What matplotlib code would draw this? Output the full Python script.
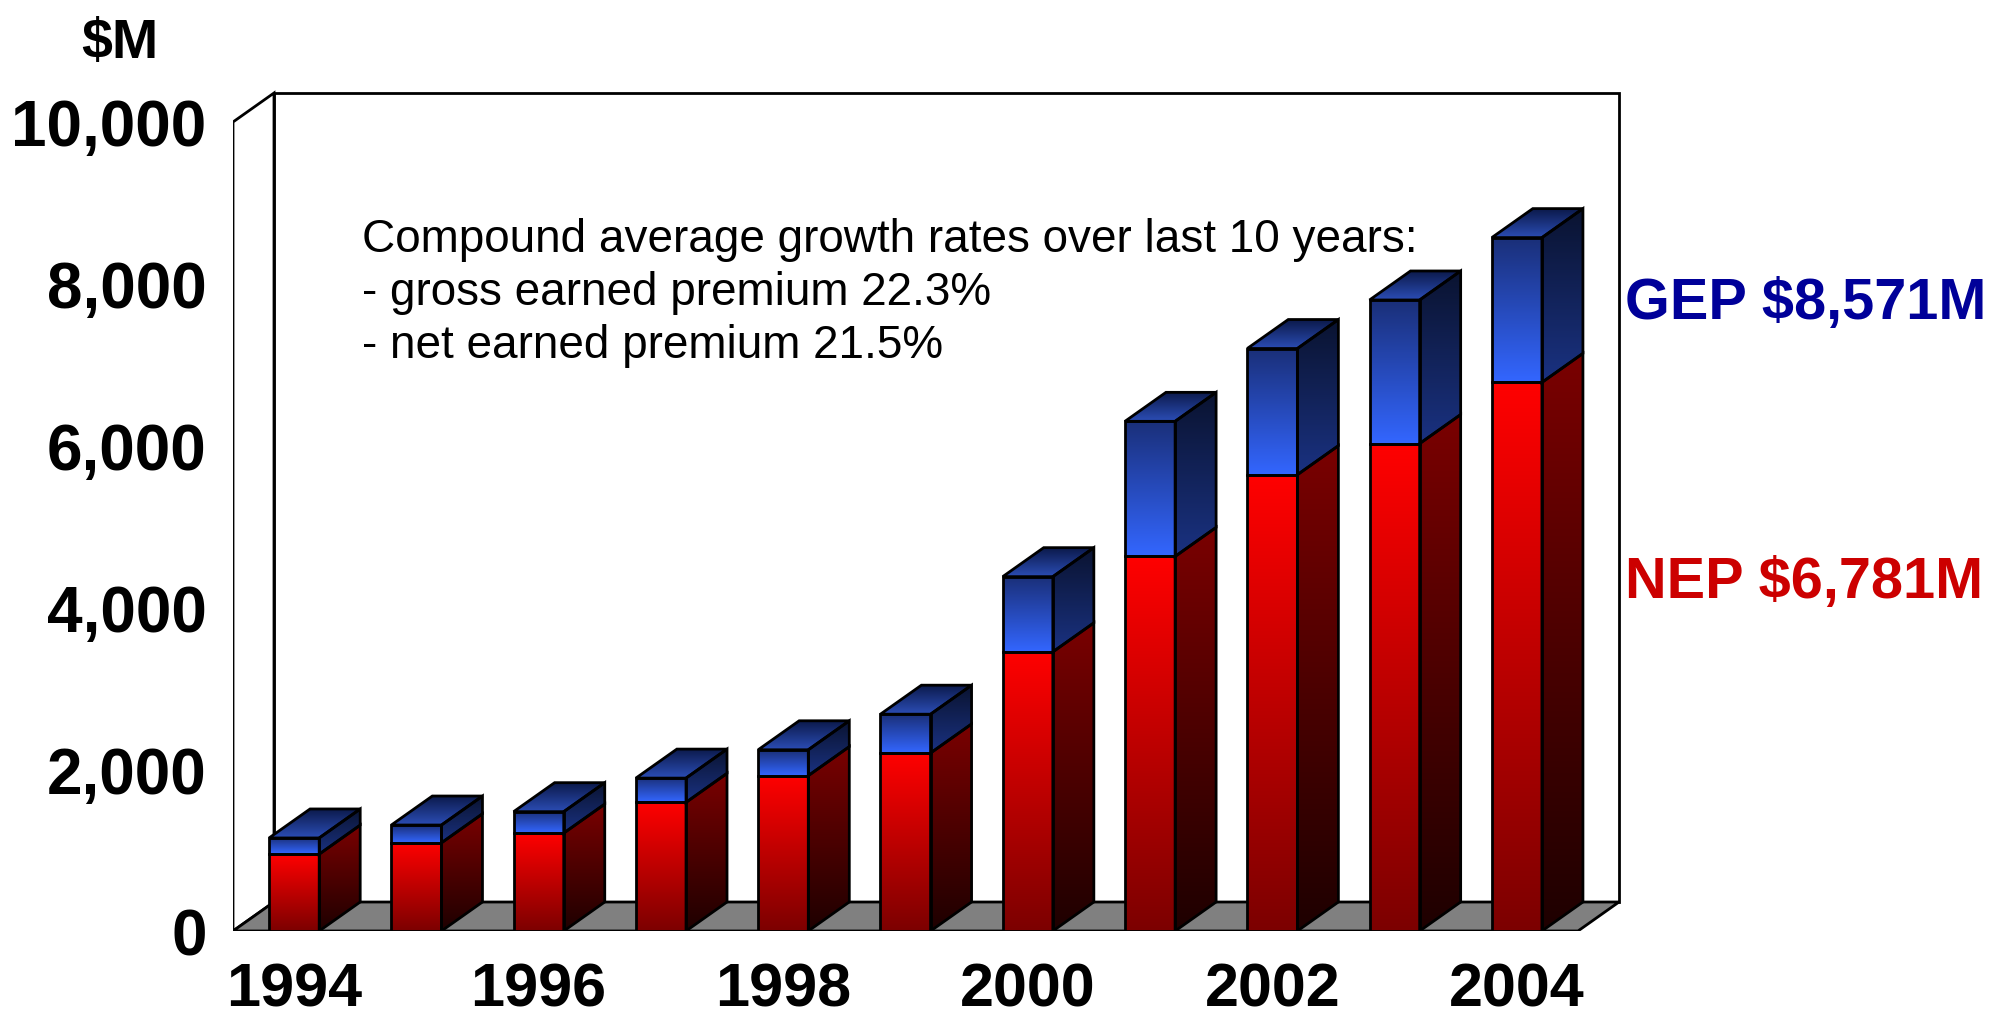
import numpy as np
import matplotlib
matplotlib.use("Agg")
import matplotlib.pyplot as plt
from matplotlib.patches import Polygon
from matplotlib.colors import to_rgb

# ---------------- data ----------------
years = [1994, 1995, 1996, 1997, 1998, 1999, 2000, 2001, 2002, 2003, 2004]
gep = [1150, 1310, 1475, 1890, 2240, 2680, 4380, 6300, 7200, 7800, 8571]   # gross earned premium $M
nep = [950, 1090, 1210, 1590, 1920, 2200, 3450, 4630, 5640, 6025, 6781]     # net earned premium $M
ytick_vals = [0, 2000, 4000, 6000, 8000, 10000]
ytick_labels = ["0", "2,000", "4,000", "6,000", "8,000", "10,000"]
xtick_years = [1994, 1996, 1998, 2000, 2002, 2004]
note_lines = ["Compound average growth rates over last 10 years:",
              "- gross earned premium 22.3%",
              "- net earned premium 21.5%"]
gep_label = "GEP $8,571M"
nep_label = "NEP $6,781M"
unit_label = "$M"

# ---------------- layout ----------------
W, H, DPI = 1990, 1020, 100
FONT = "Liberation Sans"
x0px, x1px = 233, 1578        # front frame left/right
y0px, ytop_px = 932, 123      # pixel rows of 0 and 10,000
ncat = len(years)
ux = (x1px - x0px) / ncat     # px per category
uy = (y0px - ytop_px) / 10000 # px per $M
ddx_px, ddy_px = 41, 29
DX = ddx_px / ux
DY = ddy_px / uy
BW = 0.41

fig = plt.figure(figsize=(W / DPI, H / DPI), dpi=DPI)
ax_right_px = x1px + 46
ax_top_px = 88
ax = fig.add_axes([x0px / W, (H - y0px) / H, (ax_right_px - x0px) / W, (y0px - ax_top_px) / H])
xlim = (-0.5, -0.5 + (ax_right_px - x0px) / ux)
ylim = (0, (y0px - ax_top_px) / uy)

EDGE = dict(edgecolor="black", linewidth=2.0, joinstyle="miter")


def face(verts, c_bottom, c_top, z=2):
    verts = np.asarray(verts, dtype=float)
    poly = Polygon(verts, closed=True, facecolor="none", zorder=z + 0.5, **EDGE)
    ax.add_patch(poly)
    cb, ct = np.array(to_rgb(c_bottom)), np.array(to_rgb(c_top))
    t = np.linspace(0, 1, 256)[:, None]
    grad = (cb * (1 - t) + ct * t)[:, None, :]
    xmn, xmx = verts[:, 0].min(), verts[:, 0].max()
    ymn, ymx = verts[:, 1].min(), verts[:, 1].max()
    im = ax.imshow(grad, extent=(xmn, xmx, ymn, ymx), origin="lower",
                   aspect="auto", interpolation="bilinear", zorder=z)
    im.set_clip_path(poly)


# walls and floor
L, R = -0.5, ncat - 0.5
ax.add_patch(Polygon([(L + DX, DY), (R + DX, DY), (R + DX, 10000 + DY), (L + DX, 10000 + DY)],
                     facecolor="white", zorder=0.5, **EDGE))
ax.add_patch(Polygon([(L, 0), (L, 10000), (L + DX, 10000 + DY), (L + DX, DY)],
                     facecolor="white", zorder=0.6, **EDGE))
ax.add_patch(Polygon([(L, 0), (R, 0), (R + DX, DY), (L + DX, DY)],
                     facecolor="#808080", zorder=0.7, **EDGE))

# bars
for i, (g, n) in enumerate(zip(gep, nep)):
    xl, xr = i - BW / 2, i + BW / 2
    # red (NEP)
    face([(xr, 0), (xr + DX, DY), (xr + DX, n + DY), (xr, n)], "#1e0000", "#7a0000")
    face([(xl, 0), (xr, 0), (xr, n), (xl, n)], "#7c0000", "#ff0000")
    # blue (GEP - NEP)
    face([(xr, n), (xr + DX, n + DY), (xr + DX, g + DY), (xr, g)], "#1a3282", "#0a1330")
    face([(xl, n), (xr, n), (xr, g), (xl, g)], "#3366ff", "#1a2f78")
    face([(xl, g), (xr, g), (xr + DX, g + DY), (xl + DX, g + DY)], "#2b4db5", "#0c1a4c")

ax.set_xlim(*xlim)
ax.set_ylim(*ylim)
for s in ax.spines.values():
    s.set_visible(False)
ax.set_facecolor("none")
ax.set_yticks(ytick_vals)
ax.set_yticklabels(ytick_labels, fontsize=46, fontweight="bold", family=FONT)
ax.set_xticks([years.index(y) for y in xtick_years])
ax.set_xticklabels([str(y) for y in xtick_years], fontsize=44, fontweight="bold", family=FONT)
ax.tick_params(axis="y", length=0, pad=19)
ax.tick_params(axis="x", length=0, pad=22)

# texts
fig.text(120 / W, 1 - 58 / H, unit_label, ha="center", va="baseline",
         fontsize=40, fontweight="bold", family=FONT)
note_baselines = [252, 305, 358]
for line, b in zip(note_lines, note_baselines):
    fig.text(362 / W, 1 - b / H, line, ha="left", va="baseline", fontsize=33, family=FONT)
fig.text(1625 / W, 1 - 319 / H, gep_label, ha="left", va="baseline",
         fontsize=41.5, fontweight="bold", color="#000099", family=FONT)
fig.text(1625 / W, 1 - 598 / H, nep_label, ha="left", va="baseline",
         fontsize=41.5, fontweight="bold", color="#cc0000", family=FONT)

fig.savefig("out.png", dpi=DPI, facecolor="white")
